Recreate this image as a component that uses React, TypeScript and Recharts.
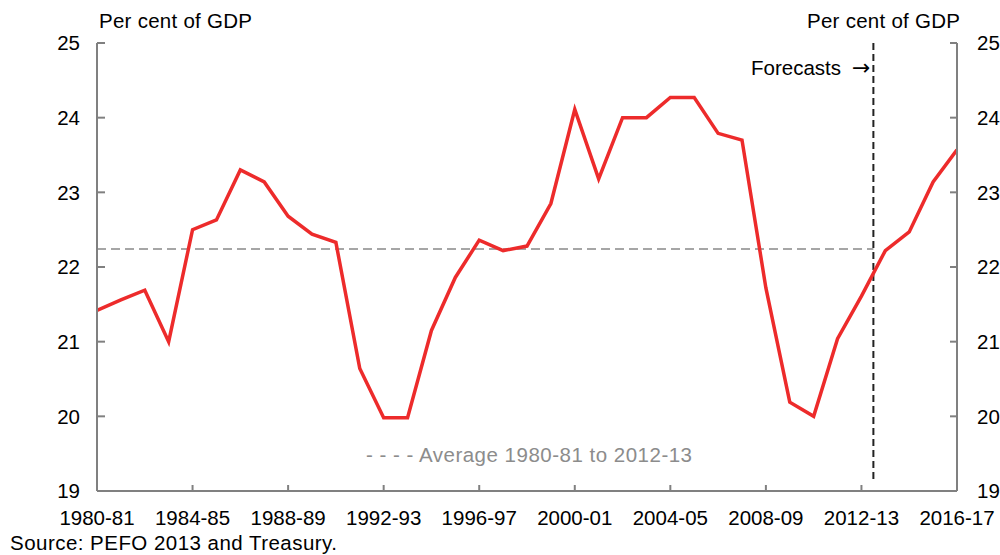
import React from 'react';
import { LineChart, Line, XAxis, YAxis, ReferenceLine } from 'recharts';

const years: string[] = [
  '1980-81', '1981-82', '1982-83', '1983-84', '1984-85', '1985-86', '1986-87', '1987-88',
  '1988-89', '1989-90', '1990-91', '1991-92', '1992-93', '1993-94', '1994-95', '1995-96',
  '1996-97', '1997-98', '1998-99', '1999-00', '2000-01', '2001-02', '2002-03', '2003-04',
  '2004-05', '2005-06', '2006-07', '2007-08', '2008-09', '2009-10', '2010-11', '2011-12',
  '2012-13', '2013-14', '2014-15', '2015-16', '2016-17',
];

const receipts: number[] = [
  21.42, 21.56, 21.69, 21.0, 22.5, 22.63, 23.3, 23.14,
  22.68, 22.44, 22.33, 20.64, 19.98, 19.98, 21.15, 21.86,
  22.36, 22.22, 22.28, 22.85, 24.11, 23.18, 24.0, 24.0,
  24.27, 24.27, 23.79, 23.7, 21.72, 20.19, 20.0, 21.04,
  21.61, 22.22, 22.47, 23.14, 23.57,
];

const xTickIdx: number[] = [0, 4, 8, 12, 16, 20, 24, 28, 32, 36];
const yTicks: number[] = [19, 20, 21, 22, 23, 24, 25];
const average = 22.24;
const forecastPos = 32.5;

const data = years.map((y, i) => ({ idx: i, year: y, value: receipts[i] }));

const FONT = '"Liberation Sans", Arial, sans-serif';
const AXIS = '#808080';
const tickStyle = { fontSize: 20.5, fill: '#000', fontFamily: FONT };

export default function App() {
  return (
    <div style={{ position: 'absolute', left: 0, top: 0, width: 1000, height: 555, overflow: 'hidden', background: '#fff' }}>
      <LineChart
        width={1000}
        height={555}
        data={data}
        margin={{ top: 43, right: 0, bottom: 24, left: 37 }}
      >
        <XAxis
          dataKey="idx"
          type="number"
          domain={[0, 36]}
          ticks={xTickIdx}
          interval={0}
          tickFormatter={(v: number) => years[v]}
          height={40}
          axisLine={{ stroke: AXIS, strokeWidth: 2 }}
          tickLine={{ stroke: AXIS, strokeWidth: 2 }}
          tickSize={-6}
          tickMargin={25}
          tick={tickStyle}
          allowDataOverflow
        />
        <YAxis
          yAxisId="left"
          domain={[19, 25]}
          ticks={yTicks}
          interval={0}
          width={60}
          axisLine={{ stroke: AXIS, strokeWidth: 2 }}
          tickLine={{ stroke: AXIS, strokeWidth: 2 }}
          tickSize={-8}
          tickMargin={25}
          tick={tickStyle}
        />
        <YAxis
          yAxisId="right"
          orientation="right"
          domain={[19, 25]}
          ticks={yTicks}
          interval={0}
          width={43}
          axisLine={{ stroke: AXIS, strokeWidth: 2 }}
          tickLine={{ stroke: AXIS, strokeWidth: 2 }}
          tickSize={-7}
          tickMargin={27}
          tick={tickStyle}
        />
        <ReferenceLine
          yAxisId="left"
          segment={[{ x: 0, y: average }, { x: forecastPos, y: average }]}
          stroke="#a6a6a6"
          strokeWidth={2}
          strokeDasharray="9 5"
        />
        <ReferenceLine
          yAxisId="left"
          segment={[{ x: forecastPos, y: 25 }, { x: forecastPos, y: 19.12 }]}
          stroke="#222"
          strokeWidth={2}
          strokeDasharray="7 4"
        />
        <Line
          yAxisId="right"
          dataKey="value"
          type="linear"
          stroke="none"
          strokeOpacity={0}
          dot={false}
          activeDot={false}
          legendType="none"
          isAnimationActive={false}
        />
        <Line
          yAxisId="left"
          dataKey="value"
          type="linear"
          stroke="#ED2B2B"
          strokeWidth={3.5}
          dot={false}
          isAnimationActive={false}
        />
      </LineChart>
      <svg
        width={1000}
        height={555}
        style={{ position: 'absolute', left: 0, top: 0, pointerEvents: 'none' }}
        fontFamily={FONT}
        fontSize={20.5}
      >
        <text x={99} y={28} fill="#000" textLength={153} lengthAdjust="spacing">Per cent of GDP</text>
        <text x={807} y={28} fill="#000" textLength={153} lengthAdjust="spacing">Per cent of GDP</text>
        <text x={751} y={75} fill="#000">
          Forecasts
          <tspan x={852} fontFamily='"DejaVu Sans", sans-serif' fontSize={22}>→</tspan>
        </text>
        <text x={366} y={462} fill="#8c8c8c" textLength={326} lengthAdjust="spacing">- - - - Average 1980-81 to 2012-13</text>
        <text x={10} y={550} fill="#000" textLength={327} lengthAdjust="spacing">Source: PEFO 2013 and Treasury.</text>
      </svg>
    </div>
  );
}
